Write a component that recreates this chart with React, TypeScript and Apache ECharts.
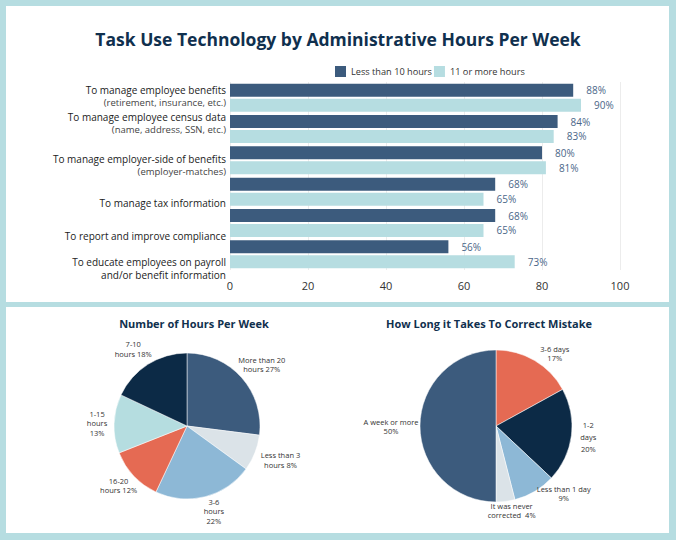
import React, { useEffect, useRef } from "react";
import * as echarts from "echarts";

const seriesNames = ["Less than 10 hours", "11 or more hours"];
const categoryMain = [
  "To manage employee benefits",
  "To manage employee census data",
  "To manage employer-side of benefits",
  "To manage tax information",
  "To report and improve compliance",
  "To educate employees on payroll",
];
const categorySub = [
  "(retirement, insurance, etc.)",
  "(name, address, SSN, etc.)",
  "(employer-matches)",
  "",
  "",
  "and/or benefit information",
];
const lessThan10 = [88, 84, 80, 68, 68, 56];
const elevenOrMore = [90, 83, 81, 65, 65, 73];
const xTicks = [0, 20, 40, 60, 80, 100];

const hoursNames = ["More than 20 hours", "Less than 3 hours", "3-6 hours", "16-20 hours", "1-15 hours", "7-10 hours"];
const hoursLabelText = ["More than 20\nhours ", "Less than 3\nhours ", "3-6\nhours\n", "16-20\nhours ", "1-15\nhours\n", "7-10\nhours "];
const hoursValues = [27, 8, 22, 12, 13, 18];

const mistakeNames = ["3-6 days", "1-2 days", "Less than 1 day", "It was never corrected", "A week or more"];
const mistakeLabelText = ["3-6 days\n", "1-2\ndays\n", "Less than 1 day\n", "It was never\ncorrected  ", "A week or more\n"];
const mistakeValues = [17, 20, 9, 4, 50];

// layout / style (not data)
const labelShift = [-1, -6, 5, 11, 13, 14];
const labelLineHeight = [12.5, 13, 12.5, 12.5, 12.5, 12.5];
const subIsMain = [false, false, false, false, false, true];
const hoursColors = ["#3c5b7d", "#dbe3e8", "#8db8d6", "#e56a53", "#b5dde0", "#0c2a46"];
const mistakeColors = ["#e56a53", "#0c2a46", "#8db8d6", "#dbe3e8", "#3c5b7d"];
const hoursLen = [20, 20, 15, 14, 12, 18];
const hoursLen2 = [0, 2, 0, 0, 0, 0];
const mistakeLen = [8, 12, 2, 9, 3];
const mistakeLen2 = [11, 0, 23, 0, 21];
const mistakeLineHeight = [9, 12, 9, 9, 9];

const FONT = "'Open Sans', sans-serif";

export default function App() {
  const ref = useRef<HTMLDivElement>(null);
  useEffect(() => {
    if (!ref.current) return;
    const chart = echarts.init(ref.current, undefined, { renderer: "svg" });

    const rich: Record<string, any> = {};
    categoryMain.forEach((_, i) => {
      rich["m" + i] = { fontSize: 10, color: "#222", fontFamily: FONT, fontWeight: 500, lineHeight: labelLineHeight[i], align: "right" };
      rich["s" + i] = {
        fontSize: subIsMain[i] ? 10 : 9.5,
        color: subIsMain[i] ? "#222" : "#444",
        fontFamily: FONT,
        lineHeight: labelLineHeight[i],
        align: "right",
      };
      rich["g" + i] = { fontSize: 1, lineHeight: Math.max(1, Math.abs(labelShift[i]) * 2) };
    });

    const pieLabel = {
      show: true,
      position: "outside",
      fontSize: 7.5,
      lineHeight: 9.5,
      color: "#333",
      fontFamily: FONT,
    };

    const option: any = {
      animation: false,
      backgroundColor: "#b6dde1",
      textStyle: { fontFamily: FONT },
      graphic: [
        { type: "rect", z: -10, shape: { x: 6, y: 6, width: 663, height: 296 }, style: { fill: "#ffffff" } },
        { type: "rect", z: -10, shape: { x: 6, y: 307, width: 663, height: 226 }, style: { fill: "#ffffff" } },
      ],
      title: [
        {
          text: "Task Use Technology by Administrative Hours Per Week",
          left: "center",
          top: 25,
          textStyle: { fontSize: 17.5, fontWeight: "bold", color: "#10304e", fontFamily: FONT },
        },
        {
          text: "Number of Hours Per Week",
          left: 189,
          textAlign: "center",
          top: 313,
          textStyle: { fontSize: 11, fontWeight: "bold", color: "#10304e", fontFamily: FONT },
        },
        {
          text: "How Long it Takes To Correct Mistake",
          left: 484,
          textAlign: "center",
          top: 313,
          textStyle: { fontSize: 11, fontWeight: "bold", color: "#10304e", fontFamily: FONT },
        },
      ],
      legend: {
        data: seriesNames,
        left: 335,
        top: 66,
        padding: 0,
        icon: "rect",
        itemWidth: 11,
        itemHeight: 11,
        itemGap: 2,
        textStyle: { fontSize: 9.2, color: "#333", fontFamily: FONT },
      },
      grid: { left: 230, right: 56, top: 82, bottom: 270, containLabel: false },
      xAxis: {
        type: "value",
        min: xTicks[0],
        max: xTicks[xTicks.length - 1],
        interval: xTicks[1] - xTicks[0],
        axisLine: { show: false },
        axisTick: { show: false },
        splitLine: { lineStyle: { color: "#ececec" } },
        axisLabel: { fontSize: 11, color: "#333", margin: 10, fontFamily: FONT },
      },
      yAxis: {
        type: "category",
        inverse: true,
        data: categoryMain,
        axisLine: { show: false },
        axisTick: { show: false },
        axisLabel: {
          margin: 4,
          formatter: (_v: string, i: number) => {
            let s = `{m${i}|${categoryMain[i]}}`;
            if (categorySub[i]) s += `\n{s${i}|${categorySub[i]}}`;
            if (labelShift[i] > 0) s = `{g${i}| }\n` + s;
            else if (labelShift[i] < 0) s = s + `\n{g${i}| }`;
            return s;
          },
          rich,
        },
      },
      series: [
        {
          name: seriesNames[0],
          type: "bar",
          data: lessThan10,
          barWidth: 13,
          barGap: "15%",
          itemStyle: { color: "#3c5b7d" },
          label: { show: true, position: "right", distance: 13, formatter: "{c}%", fontSize: 10, color: "#4a6688", fontFamily: FONT },
        },
        {
          name: seriesNames[1],
          type: "bar",
          data: elevenOrMore,
          barWidth: 13,
          barGap: "15%",
          itemStyle: { color: "#b6dde1" },
          label: { show: true, position: "right", distance: 13, formatter: "{c}%", fontSize: 10, color: "#4a6688", fontFamily: FONT },
        },
        {
          type: "pie",
          center: [187, 426],
          radius: 73,
          startAngle: 90,
          clockwise: true,
          avoidLabelOverlap: false,
          data: hoursValues.map((v, i) => ({
            name: hoursNames[i],
            value: v,
            itemStyle: { color: hoursColors[i] },
            labelLine: { show: false, length: hoursLen[i], length2: hoursLen2[i] },
          })),
          itemStyle: { borderColor: "#ffffff", borderWidth: 0.5 },
          label: { ...pieLabel, formatter: (p: any) => hoursLabelText[p.dataIndex] + p.value + "%" },
          labelLayout: { align: "center", verticalAlign: "middle" },
          labelLine: { show: false },
        },
        {
          type: "pie",
          center: [496, 426],
          radius: 76,
          startAngle: 90,
          clockwise: true,
          avoidLabelOverlap: false,
          data: mistakeValues.map((v, i) => ({
            name: mistakeNames[i],
            value: v,
            itemStyle: { color: mistakeColors[i] },
            label: { lineHeight: mistakeLineHeight[i] },
            labelLine: { show: false, length: mistakeLen[i], length2: mistakeLen2[i] },
          })),
          itemStyle: { borderColor: "#ffffff", borderWidth: 0.5 },
          label: { ...pieLabel, formatter: (p: any) => mistakeLabelText[p.dataIndex] + p.value + "%" },
          labelLayout: { align: "center", verticalAlign: "middle" },
          labelLine: { show: false },
        },
      ],
    };
    chart.setOption(option);
    return () => chart.dispose();
  }, []);
  return <div ref={ref} style={{ position: "fixed", left: 0, top: 0, width: 676, height: 540 }} />;
}
